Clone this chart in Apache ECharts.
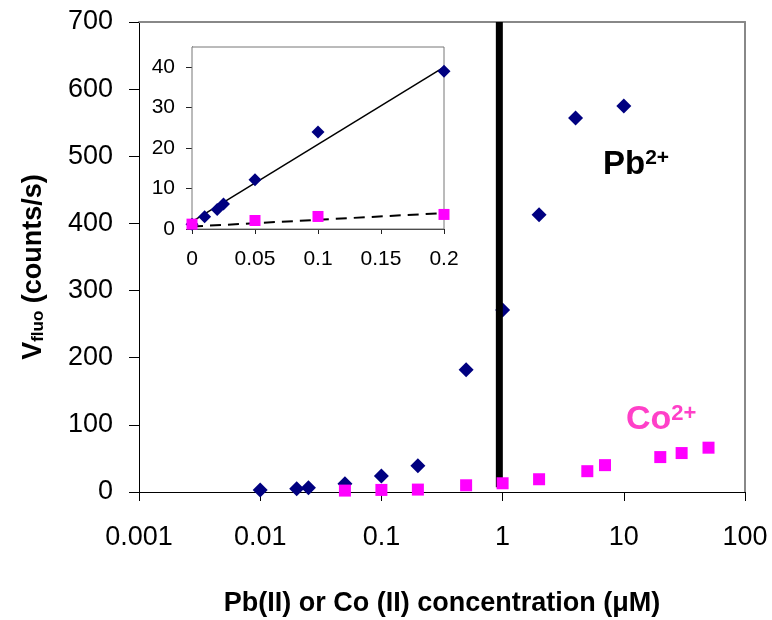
<!DOCTYPE html>
<html>
<head>
<meta charset="utf-8">
<script src="https://cdn.jsdelivr.net/npm/echarts@6/dist/echarts.min.js"></script>
<style>html,body{margin:0;padding:0;background:#fff}#c{width:772px;height:620px}</style>
</head>
<body>
<div id="c"></div>
<script>
// Pb(II) data (concentration in µM, fluorescence counts/s)
var pbConc   = [0, 0.01, 0.02, 0.025, 0.05, 0.1, 0.2, 0.5, 1, 2, 4, 10];
var pbSignal = [1.2, 3, 4.8, 6.2, 12.2, 24, 39, 182, 271, 413, 557, 575];
// Co(II) data
var coConc   = [0, 0.05, 0.1, 0.2, 0.5, 1, 2, 5, 7, 20, 30, 50];
var coSignal = [1.2, 2.1, 3.1, 3.6, 10, 13, 19, 31, 40, 52, 58, 66];
// Inset linear fits (endpoints)
var pbFitX = [0, 0.2], pbFitY = [1.8, 40];
var coFitX = [0, 0.2], coFitY = [0.6, 3.95];
// Vertical marker line
var markerX = [0.94, 0.94], markerY = [7, 700];
// Tick labels
var mainXTicks = [0.001, 0.01, 0.1, 1, 10, 100];
var mainYTicks = [0, 100, 200, 300, 400, 500, 600, 700];
var insetXTicks = [0, 0.05, 0.1, 0.15, 0.2];
var insetYTicks = [0, 10, 20, 30, 40];

function zip(xs, ys, f) {
  var out = [];
  for (var i = 0; i < xs.length; i++) if (!f || f(xs[i])) out.push([xs[i], ys[i]]);
  return out;
}
var FONT = '"Liberation Sans", Arial, sans-serif';
var chart = echarts.init(document.getElementById('c'), null, {renderer: 'canvas'});
var option = {
  animation: false,
  backgroundColor: '#fff',
  textStyle: {fontFamily: FONT},
  grid: [
    {left: 139, right: 27, top: 22, bottom: 128, show: false, containLabel: false, outerBoundsMode: 'none'},
    {left: 192, right: 328, top: 47, bottom: 391, show: true, backgroundColor: '#fff', borderColor: '#777', borderWidth: 1, z: 5, containLabel: false, outerBoundsMode: 'none'}
  ],
  xAxis: [
    {gridIndex: 0, type: 'log', logBase: 10, min: 0.001, max: 100,
     axisLine: {show: true, onZero: false, lineStyle: {color: '#000', width: 1}},
     axisTick: {show: true, length: 9, lineStyle: {color: '#000'}},
     minorTick: {show: false}, splitLine: {show: false},
     axisLabel: {fontSize: 27, color: '#000', margin: 32, fontFamily: FONT,
       customValues: mainXTicks,
       formatter: function (v) { return String(parseFloat(Number(v).toPrecision(6))); }},
     name: 'Pb(II) or Co (II) concentration (\u03bcM)', nameLocation: 'middle', nameGap: 98,
     nameTextStyle: {fontSize: 27, fontWeight: 'bold', color: '#000', fontFamily: FONT}
    },
    {gridIndex: 0, type: 'log', logBase: 10, min: 0.001, max: 100, position: 'top',
     axisLine: {show: true, onZero: false, lineStyle: {color: '#888', width: 2}},
     axisTick: {show: false}, axisLabel: {show: false}, splitLine: {show: false}},
    {gridIndex: 1, type: 'value', min: 0, max: 0.2, interval: 0.05,
     axisLine: {show: true, onZero: false, lineStyle: {color: '#222', width: 1}},
     axisTick: {show: true, length: 5, lineStyle: {color: '#222'}},
     splitLine: {show: false},
     axisLabel: {fontSize: 21, color: '#000', margin: 20, fontFamily: FONT, customValues: insetXTicks,
       formatter: function (v) { return String(parseFloat(Number(v).toPrecision(6))); }}
    }
  ],
  yAxis: [
    {gridIndex: 0, type: 'value', min: 0, max: 700, interval: 100,
     axisLine: {show: true, onZero: false, lineStyle: {color: '#000', width: 1}},
     axisTick: {show: true, length: 10, lineStyle: {color: '#000'}},
     splitLine: {show: false},
     axisLabel: {fontSize: 27, color: '#000', margin: 26, fontFamily: FONT, customValues: mainYTicks},
     name: '{v|V}{s|fluo}{n| (counts/s)}', nameLocation: 'middle', nameGap: 92,
     nameTextStyle: {color: '#000', fontFamily: FONT, fontWeight: 'bold', fontSize: 27, padding: [0, 20, 0, 0],
       rich: {
         v: {fontSize: 27, fontWeight: 'bold', color: '#000', fontFamily: FONT},
         s: {fontSize: 17, fontWeight: 'bold', color: '#000', fontFamily: FONT, verticalAlign: 'bottom', padding: [8, 0, 0, 0]},
         n: {fontSize: 27, fontWeight: 'bold', color: '#000', fontFamily: FONT}
       }}
    },
    {gridIndex: 0, type: 'value', min: 0, max: 700, position: 'right',
     axisLine: {show: true, onZero: false, lineStyle: {color: '#888', width: 2}},
     axisTick: {show: false}, axisLabel: {show: false}, splitLine: {show: false}},
    {gridIndex: 1, type: 'value', min: 0, max: 45, interval: 10,
     axisLine: {show: true, onZero: false, lineStyle: {color: '#222', width: 1}},
     axisTick: {show: true, length: 6, lineStyle: {color: '#222'}, customValues: insetYTicks},
     splitLine: {show: false},
     axisLabel: {fontSize: 21, color: '#000', margin: 17, fontFamily: FONT, customValues: insetYTicks}
    }
  ],
  series: [
    {type: 'scatter', name: 'Pb', xAxisIndex: 0, yAxisIndex: 0, z: 2,
     data: zip(pbConc, pbSignal, function (x) { return x > 0; }),
     symbol: 'diamond', symbolSize: 15, itemStyle: {color: '#000080', opacity: 1}},
    {type: 'line', name: 'marker', xAxisIndex: 0, yAxisIndex: 0, z: 3,
     data: zip(markerX, markerY), symbol: 'none',
     lineStyle: {color: '#000', width: 7}},
    {type: 'scatter', name: 'Co', xAxisIndex: 0, yAxisIndex: 0, z: 4,
     data: zip(coConc, coSignal, function (x) { return x > 0; }),
     symbol: 'rect', symbolSize: 12, itemStyle: {color: '#FF00FF', opacity: 1}},
    // inset
    {type: 'line', name: 'PbFit', xAxisIndex: 2, yAxisIndex: 2, z: 10,
     data: zip(pbFitX, pbFitY), symbol: 'none', lineStyle: {color: '#000', width: 1.5}},
    {type: 'line', name: 'CoFit', xAxisIndex: 2, yAxisIndex: 2, z: 10,
     data: zip(coFitX, coFitY), symbol: 'none', lineStyle: {color: '#000', width: 2, type: [11, 7]}},
    {type: 'scatter', name: 'PbInset', xAxisIndex: 2, yAxisIndex: 2, z: 11,
     data: zip(pbConc, pbSignal, function (x) { return x <= 0.2; }),
     symbol: 'diamond', symbolSize: 13, itemStyle: {color: '#000080', opacity: 1}},
    {type: 'scatter', name: 'CoInset', xAxisIndex: 2, yAxisIndex: 2, z: 12,
     data: zip(coConc, coSignal, function (x) { return x <= 0.2; }),
     symbol: 'rect', symbolSize: 11, itemStyle: {color: '#FF00FF', opacity: 1}}
  ],
  graphic: [
    {type: 'text', left: 603, top: 148, z: 20,
     style: {text: '{a|Pb}{b|2+}', fill: '#000',
       rich: {a: {fontSize: 33, fontWeight: 'bold', fontFamily: FONT, fill: '#000'},
              b: {fontSize: 21, fontWeight: 'bold', fontFamily: FONT, fill: '#000', verticalAlign: 'top'}}}},
    {type: 'text', left: 626, top: 403, z: 20,
     style: {text: '{a|Co}{b|2+}', fill: '#FF40C8',
       rich: {a: {fontSize: 34, fontWeight: 'bold', fontFamily: FONT, fill: '#FF40C8'},
              b: {fontSize: 22, fontWeight: 'bold', fontFamily: FONT, fill: '#FF40C8', verticalAlign: 'top'}}}}
  ]
};
chart.setOption(option);
</script>
</body>
</html>
